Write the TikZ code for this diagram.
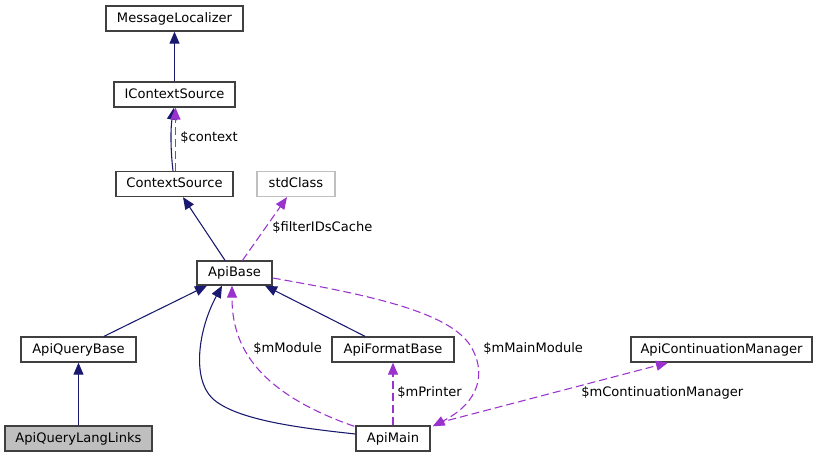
\documentclass[tikz,border=0pt]{standalone}
\usepackage{fontspec}
\setmainfont{DejaVu Sans}
\usetikzlibrary{arrows.meta}
\definecolor{navy}{HTML}{191970}
\definecolor{orch}{HTML}{9A32CD}
\definecolor{boxline}{HTML}{404040}
\definecolor{boxgray}{HTML}{BFBFBF}
\begin{document}
\begin{tikzpicture}[x=0.75pt,y=-0.75pt,
  txt/.style={font=\fontsize{9.8}{11}\selectfont, text=black, text height=7.3pt, text depth=1.9pt},
  cls/.style={txt, draw=boxline, line width=1pt, fill=white, inner sep=0pt, minimum height=18.75pt},
  lbl/.style={txt, anchor=west, inner sep=0pt},
  inh/.style={draw=navy, line width=0.8pt, -{Triangle[length=9pt,width=7.5pt]}},
  use/.style={draw=orch, line width=0.8pt, dash pattern=on 6pt off 3pt, -{Triangle[length=9pt,width=7.5pt]}}]
\useasboundingbox[fill=white] (0,0) rectangle (819,457);

% classes
\node[cls, minimum width=102.75pt] (ML)   at (174.5,18.5)  {MessageLocalizer};
\node[cls, minimum width=90.75pt]  (ICS)  at (174.5,94.5)  {IContextSource};
\node[cls, minimum width=87.75pt]  (CS)   at (174.5,184)   {ContextSource};
\node[cls, minimum width=58.5pt, draw=boxgray] (STD) at (296,184) {stdClass};
\node[cls, minimum width=56.25pt, minimum height=18pt] (AB) at (234.5,273) {ApiBase};
\node[cls, minimum width=91.5pt]   (AFB)  at (393,349.5)   {ApiFormatBase};
\node[cls, minimum width=55.5pt]   (AM)   at (393,438.5)   {ApiMain};
\node[cls, minimum width=86.25pt]  (AQB)  at (78.5,349.5)  {ApiQueryBase};
\node[cls, minimum width=110.25pt, fill=boxgray] (AQLL) at (78.5,438.5) {ApiQueryLangLinks};
\node[cls, minimum width=135.75pt] (ACM)  at (721.5,349.5) {ApiContinuationManager};

% labels
\node[lbl] (Lctx)  at (180,138)  {\$context};
\node[lbl] (Lfil)  at (272,228)  {\$filterIDsCache};
\node[lbl] (Lmod)  at (253,349)  {\$mModule};
\node[lbl] (Lmain) at (483,349)  {\$mMainModule};
\node[lbl] (Lprn)  at (397,393)  {\$mPrinter};
\node[lbl] (Lcont) at (581,393)  {\$mContinuationManager};

% inheritance
\draw[inh] (ICS.north) -- (ML.south);
\draw[inh] ([shift={(-1.5,0)}]CS.north) .. controls (170.5,150) and (170.5,128) .. ([shift={(-0.5,0)}]ICS.south);
\draw[inh] ([shift={(-9.5,0)}]AB.north) -- ([shift={(8.5,0)}]CS.south);
\draw[inh] ([shift={(25.5,0)}]AQB.north) -- ([shift={(-27.5,0)}]AB.south);
\draw[inh] (AQLL.north) -- (AQB.south);
\draw[inh] ([shift={(-28,0)}]AFB.north) -- ([shift={(30.5,0)}]AB.south);
\draw[inh] ([shift={(0,-4.5)}]AM.west) .. controls (300,428) and (235,420) .. (212,398)
           .. controls (192,378) and (198,330) .. ([shift={(-12.5,0)}]AB.south);

% usage
\draw[use] ([shift={(1,0)}]CS.north) -- ([shift={(1,0)}]ICS.south);
\draw[use] ([shift={(8,0)}]AB.north) -- ([shift={(-9,0)}]STD.south);
\draw[use] ([shift={(-1,1)}]AM.north west) .. controls (250,390) and (232,340) .. ([shift={(-2.5,0)}]AB.south);
\draw[use] ([shift={(0,5)}]AB.east) .. controls (370,295) and (448,312) .. (470,345)
           .. controls (487,372) and (480,402) .. ([shift={(2,1)}]AM.north east);
\draw[use] (AM.north) -- (AFB.south);
\draw[use] ([shift={(6,-2)}]AM.north east) -- ([shift={(-53.5,0)}]ACM.south);
\end{tikzpicture}
\end{document}
